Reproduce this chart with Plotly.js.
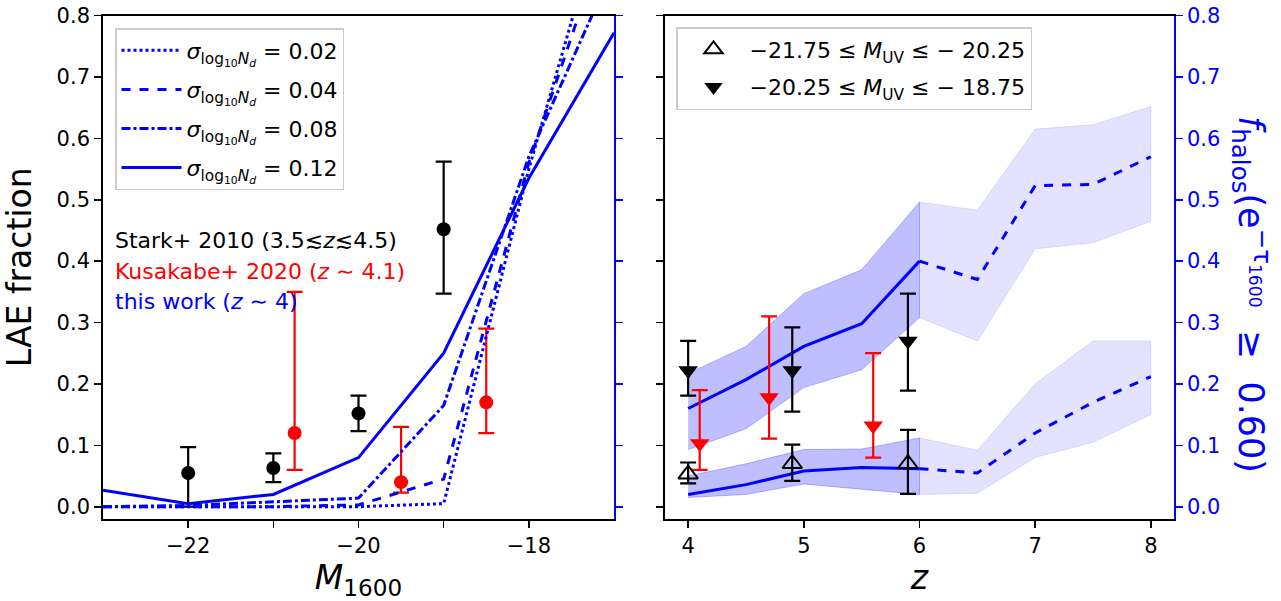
<!DOCTYPE html>
<html>
<head>
<meta charset="utf-8">
<script src="https://cdn.plot.ly/plotly-3.0.1.min.js"></script>
<style>html,body{margin:0;padding:0;background:#fff;}</style>
</head>
<body>
<div id="chart" style="width:1281px;height:601px;"></div>
<script>
// ---------- Left panel: LAE fraction versus UV magnitude ----------
const magGrid = [-23, -22, -21, -20, -19, -18, -17];
const sigmaLabels = ['0.02', '0.04', '0.08', '0.12'];
const laeSigma002 = [0, 0, 0, 0, 0.005, 0.55, 1.03];
const laeSigma004 = [0, 0, 0, 0.003, 0.045, 0.56, 0.97];
const laeSigma008 = [0, 0.002, 0.008, 0.014, 0.165, 0.57, 0.88];
const laeSigma012 = [0.027, 0.005, 0.02, 0.08, 0.25, 0.535, 0.772];

// Stark+ 2010 (3.5 <~ z <~ 4.5)
const starkMag = [-22, -21, -20, -19];
const starkFrac = [0.055, 0.063, 0.152, 0.452];
const starkHi = [0.097, 0.087, 0.181, 0.562];
const starkLo = [0.0, 0.040, 0.123, 0.347];

// Kusakabe+ 2020 (z ~ 4.1)
const kusaMag = [-20.75, -19.5, -18.5];
const kusaFrac = [0.12, 0.04, 0.17];
const kusaHi = [0.35, 0.13, 0.29];
const kusaLo = [0.06, 0.023, 0.12];

// ---------- Right panel: fraction of halos with high transmission versus redshift ----------
const zCore = [4, 4.5, 5, 5.5, 6];
const zTail = [6, 6.5, 7, 7.5, 8];

// faint bin, -20.25 <= M_UV <= -18.75
const faintMed = [0.16, 0.207, 0.261, 0.298, 0.40];
const faintUp = [0.217, 0.261, 0.347, 0.386, 0.496];
const faintDn = [0.093, 0.127, 0.194, 0.223, 0.308];
const faintMedTail = [0.40, 0.37, 0.523, 0.525, 0.57];
const faintUpTail = [0.496, 0.483, 0.615, 0.622, 0.652];
const faintDnTail = [0.308, 0.27, 0.42, 0.43, 0.465];

// bright bin, -21.75 <= M_UV <= -20.25
const brightMed = [0.02, 0.036, 0.058, 0.064, 0.062];
const brightUp = [0.05, 0.07, 0.093, 0.094, 0.112];
const brightDn = [0.015, 0.02, 0.037, 0.028, 0.02];
const brightMedTail = [0.062, 0.055, 0.12, 0.17, 0.212];
const brightUpTail = [0.112, 0.092, 0.2, 0.27, 0.27];
const brightDnTail = [0.02, 0.022, 0.08, 0.105, 0.15];

// observed LAE fractions per redshift
const obsZ = [4.0, 4.9, 5.9];
const obsBright = [0.053, 0.07, 0.07];
const obsBrightHi = [0.072, 0.101, 0.125];
const obsBrightLo = [0.038, 0.042, 0.021];
const obsFaint = [0.222, 0.222, 0.27];
const obsFaintHi = [0.27, 0.292, 0.347];
const obsFaintLo = [0.181, 0.155, 0.189];
const kusaZ = [4.1, 4.7, 5.6];
const kusaZFrac = [0.103, 0.178, 0.132];
const kusaZHi = [0.19, 0.31, 0.25];
const kusaZLo = [0.06, 0.111, 0.08];

const binLabels = ['\u221221.75 \u2264 <i>M</i><sub>UV</sub> \u2264 \u2212 20.25',
                   '\u221220.25 \u2264 <i>M</i><sub>UV</sub> \u2264 \u2212 18.75'];

// ---------- helpers ----------
const FONT = 'DejaVu Sans, Verdana, sans-serif';
const BLUE = '#0000ff';
const upErr = (hi, v) => hi.map((h, i) => h - v[i]);
const dnErr = (lo, v) => v.map((x, i) => x - lo[i]);
const band = (x, lo, hi) => ({x: x.concat(x.slice().reverse()), y: lo.concat(hi.slice().reverse())});

function errPoints(x, y, hi, lo, color, symbol, xa, ya, extra) {
  return Object.assign({
    type: 'scatter', mode: 'markers', x: x, y: y, xaxis: xa, yaxis: ya,
    marker: {color: color, size: 14, symbol: symbol},
    error_y: {type: 'data', symmetric: false, array: upErr(hi, y), arrayminus: dnErr(lo, y),
              color: color, thickness: 2.2, width: 8},
    showlegend: false, hoverinfo: 'x+y'
  }, extra || {});
}

const sigmaLegend = s => '<i>\u03c3</i><sub>log<sub>10</sub><i>N<sub>d</sub></i></sub> = ' + s;

const traces = [];

// observations on the left (primary y axis)
traces.push(errPoints(starkMag, starkFrac, starkHi, starkLo, 'black', 'circle', 'x', 'y'));
traces.push(errPoints(kusaMag, kusaFrac, kusaHi, kusaLo, 'red', 'circle', 'x', 'y'));

// model curves for different scatter in log N_d (twin axis on the right)
const modelSets = [laeSigma002, laeSigma004, laeSigma008, laeSigma012];
const dashes = ['dot', 'dash', 'dashdot', 'solid'];
modelSets.forEach((ys, i) => {
  traces.push({
    type: 'scatter', mode: 'lines', x: magGrid, y: ys, xaxis: 'x', yaxis: 'y2',
    line: {color: BLUE, width: 3, dash: dashes[i]},
    name: sigmaLegend(sigmaLabels[i]), legend: 'legend', legendgroup: 'g' + i, showlegend: true
  });
});

// right panel: shaded ranges (drawn beneath the observations)
const darkFill = 'rgba(0,0,255,0.25)';
const lightFill = 'rgba(0,0,255,0.11)';
[[zCore, faintDn, faintUp, darkFill], [zTail, faintDnTail, faintUpTail, lightFill],
 [zCore, brightDn, brightUp, darkFill], [zTail, brightDnTail, brightUpTail, lightFill]].forEach(b => {
  const p = band(b[0], b[1], b[2]);
  traces.push({
    type: 'scatter', mode: 'lines', x: p.x, y: p.y, xaxis: 'x2', yaxis: 'y3',
    fill: 'toself', fillcolor: b[3], line: {color: b[3], width: 1},
    showlegend: false, hoverinfo: 'skip'
  });
});

// right panel: median curves
[[zCore, faintMed, 'solid'], [zTail, faintMedTail, 'dash'],
 [zCore, brightMed, 'solid'], [zTail, brightMedTail, 'dash']].forEach(c => {
  traces.push({
    type: 'scatter', mode: 'lines', x: c[0], y: c[1], xaxis: 'x2', yaxis: 'y3',
    line: {color: BLUE, width: 3, dash: c[2]}, showlegend: false
  });
});

// right panel: observed points (twin axis, on top of the bands)
traces.push(errPoints(kusaZ, kusaZFrac, kusaZHi, kusaZLo, 'red', 'triangle-down', 'x2', 'y4',
  {marker: {color: 'red', size: 17, symbol: 'triangle-down'}}));
traces.push(errPoints(obsZ, obsBright, obsBrightHi, obsBrightLo, 'black', 'triangle-up-open', 'x2', 'y4',
  {marker: {color: 'black', size: 17, symbol: 'triangle-up-open', line: {width: 2, color: 'black'}},
   name: binLabels[0], showlegend: true, legend: 'legend2', legendgroup: 'b0'}));
traces.push(errPoints(obsZ, obsFaint, obsFaintHi, obsFaintLo, 'black', 'triangle-down', 'x2', 'y4',
  {marker: {color: 'black', size: 17, symbol: 'triangle-down'},
   name: binLabels[1], showlegend: true, legend: 'legend2', legendgroup: 'b1'}));

// ---------- layout ----------
const W = 1281, H = 601;
const px = v => v / W;
const py = v => 1 - v / H;
const yDom = [py(519), py(15.5)];
const fracTicks = [0, 0.1, 0.2, 0.3, 0.4, 0.5, 0.6, 0.7, 0.8];
const tickFont = {family: FONT, size: 21, color: 'black'};

const baseAxis = {
  showgrid: false, zeroline: false, showline: true, linewidth: 1.8,
  ticks: 'outside', ticklen: 7, tickwidth: 1.6, fixedrange: true
};

const layout = {
  width: W, height: H,
  margin: {l: 0, r: 0, t: 0, b: 0, pad: 0},
  paper_bgcolor: 'white', plot_bgcolor: 'white',
  font: {family: FONT, size: 21, color: 'black'},
  xaxis: Object.assign({}, baseAxis, {
    domain: [px(103), px(614)], range: [-23, -17], anchor: 'y',
    tickmode: 'array', tickvals: [-22, -21, -20, -19, -18],
    ticktext: ['\u221222', '', '\u221220', '', '\u221218'],
    linecolor: 'black', tickcolor: 'black', tickfont: tickFont, mirror: true,
    title: {text: '<i>M</i><sub>1600</sub>', font: {family: FONT, size: 33}, standoff: 6}
  }),
  yaxis: Object.assign({}, baseAxis, {
    domain: yDom, range: [-0.02, 0.8], anchor: 'x',
    tickmode: 'array', tickvals: fracTicks, ticktext: fracTicks.map(v => v.toFixed(1)),
    linecolor: 'black', tickcolor: 'black', tickfont: tickFont,
    title: {text: 'LAE fraction', font: {family: FONT, size: 33}, standoff: 18}
  }),
  yaxis2: Object.assign({}, baseAxis, {
    domain: yDom, range: [-0.02, 0.8], anchor: 'x', overlaying: 'y', side: 'right',
    tickmode: 'array', tickvals: fracTicks, showticklabels: false,
    linecolor: BLUE, tickcolor: BLUE
  }),
  xaxis2: Object.assign({}, baseAxis, {
    domain: [px(665), px(1174)], range: [3.8, 8.2], anchor: 'y3',
    tickmode: 'array', tickvals: [4, 5, 6, 7, 8], ticktext: ['4', '5', '6', '7', '8'],
    linecolor: 'black', tickcolor: 'black', tickfont: tickFont, mirror: true,
    title: {text: '<i>z</i>', font: {family: FONT, size: 33}, standoff: 6}
  }),
  yaxis3: Object.assign({}, baseAxis, {
    domain: yDom, range: [-0.02, 0.8], anchor: 'x2',
    tickmode: 'array', tickvals: fracTicks, showticklabels: false,
    linecolor: 'black', tickcolor: 'black'
  }),
  yaxis4: Object.assign({}, baseAxis, {
    domain: yDom, range: [-0.02, 0.8], anchor: 'x2', overlaying: 'y3', side: 'right',
    tickmode: 'array', tickvals: fracTicks, ticktext: fracTicks.map(v => v.toFixed(1)),
    linecolor: BLUE, tickcolor: BLUE, tickfont: {family: FONT, size: 21, color: BLUE}
  }),
  legend: {
    x: px(115), y: py(28), xanchor: 'left', yanchor: 'top',
    bgcolor: 'rgba(255,255,255,0.85)', bordercolor: '#cccccc', borderwidth: 1.5,
    font: {family: FONT, size: 22, color: 'black'}, tracegroupgap: 7.5, itemwidth: 60,
    traceorder: 'grouped'
  },
  legend2: {
    x: px(676), y: py(27), xanchor: 'left', yanchor: 'top',
    bgcolor: 'rgba(255,255,255,0.85)', bordercolor: '#cccccc', borderwidth: 1.5,
    font: {family: FONT, size: 22, color: 'black'}, tracegroupgap: 6, itemwidth: 62,
    traceorder: 'grouped'
  },
  annotations: [
    {text: 'Stark+ 2010 (3.5\u2272<i>z</i>\u22724.5)', x: px(113), y: py(240), xref: 'paper', yref: 'paper',
     xanchor: 'left', yanchor: 'middle', showarrow: false, font: {family: FONT, size: 22, color: 'black'}},
    {text: 'Kusakabe+ 2020 (<i>z</i> \u223c 4.1)', x: px(113), y: py(271), xref: 'paper', yref: 'paper',
     xanchor: 'left', yanchor: 'middle', showarrow: false, font: {family: FONT, size: 22, color: 'red'}},
    {text: 'this work (<i>z</i> \u223c 4)', x: px(113), y: py(301), xref: 'paper', yref: 'paper',
     xanchor: 'left', yanchor: 'middle', showarrow: false, font: {family: FONT, size: 22, color: BLUE}},
    {text: '<i>f</i><sub>halos</sub>(e<sup>\u2212\u03c4<sub>1600</sub></sup>  \u2265  0.60)',
     x: px(1252), y: py(294), xref: 'paper', yref: 'paper', textangle: 90,
     xanchor: 'center', yanchor: 'middle', showarrow: false, font: {family: FONT, size: 35, color: BLUE}}
  ]
};

Plotly.newPlot('chart', traces, layout, {staticPlot: true, displayModeBar: false});
</script>
</body>
</html>
